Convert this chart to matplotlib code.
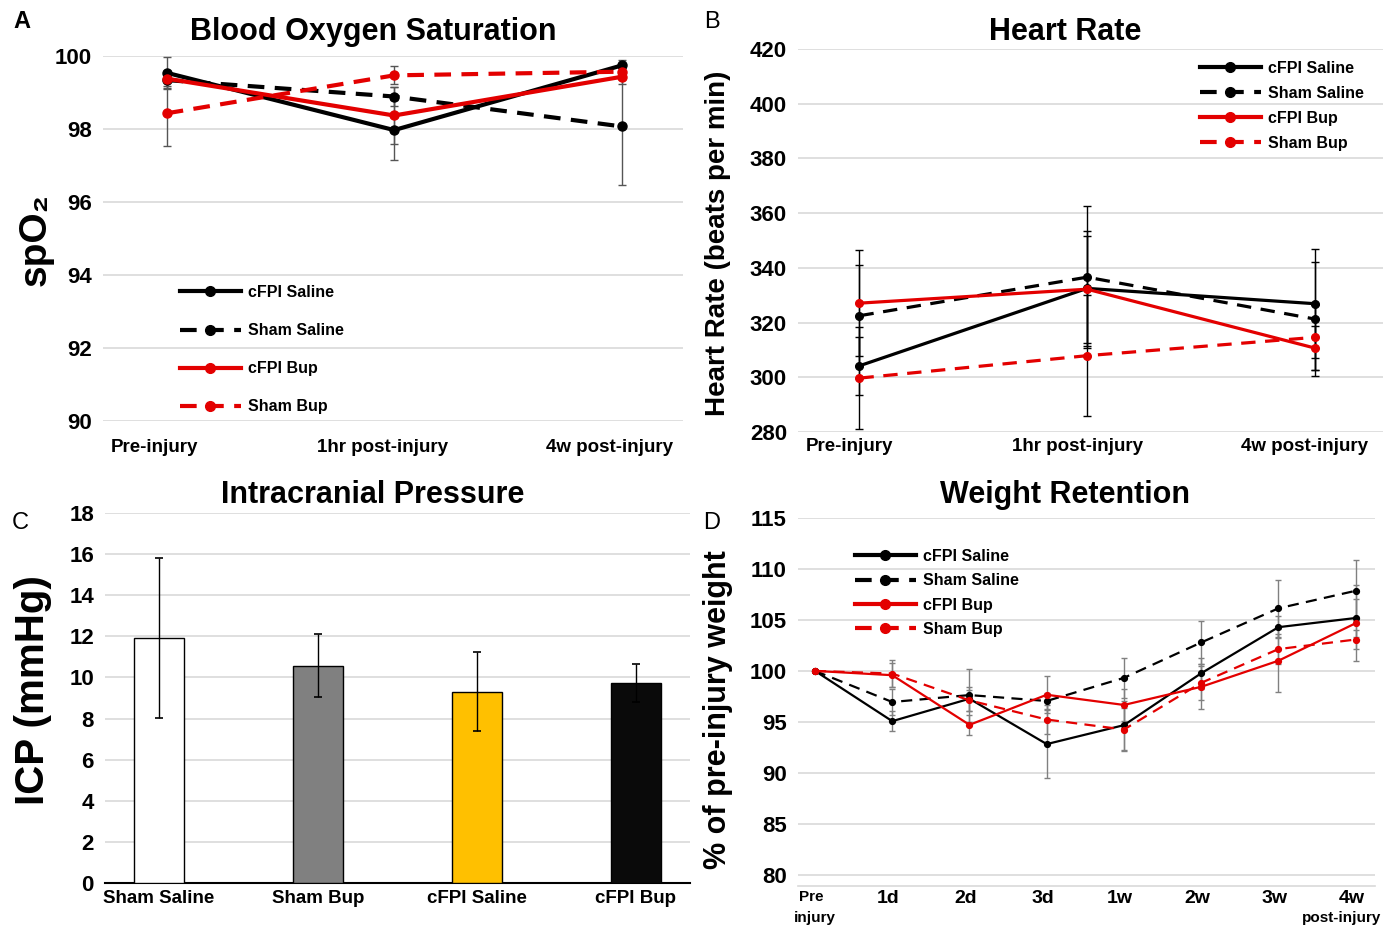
import matplotlib
matplotlib.use('Agg')
import matplotlib.pyplot as plt
from matplotlib.lines import Line2D
from matplotlib.transforms import ScaledTranslation

plt.rcParams['font.family'] = ['Liberation Sans', 'DejaVu Sans']
plt.rcParams['font.weight'] = 'bold'

RED = '#E30000'
GRID = '#D9D9D9'

# --- data ---
groups = ['cFPI Saline', 'Sham Saline', 'cFPI Bup', 'Sham Bup']
colors = ['black', 'black', RED, RED]
dashed = [False, True, False, True]

time3 = ['Pre-injury', '1hr post-injury', '4w post-injury']

spo2 = {
    'cFPI Saline': [99.54, 97.97, 99.74],
    'Sham Saline': [99.34, 98.89, 98.07],
    'cFPI Bup': [99.38, 98.37, 99.43],
    'Sham Bup': [98.43, 99.47, 99.57],
}
spo2_err = {
    'cFPI Saline': [0.42, 0.83, 0.15],
    'Sham Saline': [0.25, 0.25, 1.6],
    'cFPI Bup': [0.2, 0.77, 0.2],
    'Sham Bup': [0.9, 0.25, 0.2],
}

hr = {
    'cFPI Saline': [304.2, 332.5, 326.9],
    'Sham Saline': [322.5, 336.6, 321.3],
    'cFPI Bup': [327.1, 332.2, 310.7],
    'Sham Bup': [299.7, 307.9, 314.6],
}
hr_err = {
    'cFPI Saline': [10.6, 21.0, 20.0],
    'Sham Saline': [18.4, 26.0, 21.0],
    'cFPI Bup': [19.5, 19.5, 8.0],
    'Sham Bup': [18.5, 22.2, 12.0],
}

icp_groups = ['Sham Saline', 'Sham Bup', 'cFPI Saline', 'cFPI Bup']
icp = [11.92, 10.57, 9.31, 9.72]
icp_err = [3.87, 1.52, 1.93, 0.93]
icp_colors = ['white', '#808080', '#FFC000', '#0A0A0A']

days = ['Pre', '1d', '2d', '3d', '1w', '2w', '3w', '4w']
weight = {
    'cFPI Saline': [100.0, 95.07, 97.27, 92.82, 94.68, 99.77, 104.29, 105.19],
    'Sham Saline': [100.0, 96.95, 97.63, 97.05, 99.32, 102.79, 106.14, 107.86],
    'cFPI Bup': [100.0, 99.58, 94.71, 97.66, 96.66, 98.44, 101.0, 104.68],
    'Sham Bup': [100.0, 99.74, 97.11, 95.23, 94.25, 98.83, 102.14, 103.08],
}
weight_err = {
    'cFPI Saline': [0, 1.0, 1.2, 3.3, 2.4, 1.5, 1.1, 1.9],
    'Sham Saline': [0, 1.3, 2.6, 0.8, 1.95, 2.15, 2.8, 3.0],
    'cFPI Bup': [0, 1.2, 1.0, 1.8, 1.6, 2.2, 3.1, 3.7],
    'Sham Bup': [0, 1.3, 1.0, 1.4, 2.1, 1.7, 1.5, 0.9],
}


def px(x, y):
    """pixel position (from top-left) -> figure fraction"""
    return x / 1395, 1 - y / 926


def style_axes(ax, ytick_size=16, xtick_size=13.5, xpad=6):
    for s in ax.spines.values():
        s.set_visible(False)
    ax.grid(axis='y', color=GRID, lw=1.2)
    ax.set_axisbelow(True)
    ax.tick_params(length=0, pad=8)
    ax.tick_params(axis='y', labelsize=ytick_size)
    ax.tick_params(axis='x', labelsize=xtick_size, pad=xpad)


def shift_xlabels(ax, dx_px):
    # labels in the original sit a little left of their points
    off = ScaledTranslation(dx_px / 100, 0, ax.figure.dpi_scale_trans)
    for lab in ax.get_xticklabels():
        lab.set_transform(lab.get_transform() + off)


def line_panel(ax, x, data, err, lw, ms, dash, ecolor, capsize):
    for g, c, d in zip(groups, colors, dashed):
        ls = (0, dash) if d else '-'
        ax.errorbar(x, data[g], yerr=err[g], color=c, lw=lw, ls=ls,
                    marker='o', ms=ms, ecolor=ecolor, elinewidth=1,
                    capsize=capsize, capthick=1, label=g, zorder=3)


def add_legend(ax, lw, ms, dash, xy, spacing):
    handles = [Line2D([], [], color=c, lw=lw, ls=(0, dash) if d else '-',
                      marker='o', ms=ms)
               for c, d in zip(colors, dashed)]
    ax.legend(handles, groups, loc='upper left', bbox_to_anchor=px(*xy),
              bbox_transform=ax.figure.transFigure, frameon=False,
              fontsize=11.5, handlelength=3.8, handletextpad=0.45,
              labelspacing=spacing, borderpad=0, borderaxespad=0,
              numpoints=1)


fig = plt.figure(figsize=(13.95, 9.26), dpi=100)

# A: blood oxygen saturation
axA = fig.add_axes([103 / 1395, 1 - 421 / 926, 580 / 1395, 365 / 926])
style_axes(axA, xpad=13)
xs = list(range(len(time3)))
line_panel(axA, xs, spo2, spo2_err, 3, 6.5, (4, 2.5), '#555555', 3)
axA.set_ylim(90, 100)
axA.set_yticks(range(90, 101, 2))
axA.set_xlim(-0.28, 2.27)
axA.set_xticks(xs)
axA.set_xticklabels(time3)
shift_xlabels(axA, -12)
add_legend(axA, 3, 7, (4, 2.5), (180, 285), 1.45)

# B: heart rate
axB = fig.add_axes([798 / 1395, 1 - 432 / 926, 585 / 1395, 383 / 926])
style_axes(axB, xpad=4)
line_panel(axB, xs, hr, hr_err, 2.3, 5.5, (4.5, 3), 'black', 3)
axB.set_ylim(280, 420)
axB.set_yticks(range(280, 421, 20))
axB.set_xlim(-0.27, 2.3)
axB.set_xticks(xs)
axB.set_xticklabels(time3)
shift_xlabels(axB, -10)
add_legend(axB, 3, 7, (4, 2.5), (1200, 61), 0.62)

# C: intracranial pressure
axC = fig.add_axes([105 / 1395, 1 - 883 / 926, 585 / 1395, 370 / 926])
style_axes(axC, xpad=5)
xc = list(range(len(icp_groups)))
axC.bar(xc, icp, width=0.31, color=icp_colors, edgecolor='black', lw=1,
        yerr=icp_err, error_kw=dict(ecolor='black', elinewidth=1,
                                    capsize=3, capthick=1.2), zorder=3)
axC.spines['bottom'].set_visible(True)
axC.spines['bottom'].set_color('black')
axC.spines['bottom'].set_linewidth(1.5)
axC.set_ylim(0, 18)
axC.set_yticks(range(0, 19, 2))
axC.set_xlim(-0.34, 3.34)
axC.set_xticks(xc)
axC.set_xticklabels(icp_groups)

# D: weight retention
axD = fig.add_axes([798 / 1395, 1 - 886 / 926, 577 / 1395, 368 / 926])
style_axes(axD, xtick_size=14, xpad=3)
xd = list(range(len(days)))
line_panel(axD, xd, weight, weight_err, 1.6, 4.2, (5, 3.3), '#808080', 2)
axD.spines['bottom'].set_visible(True)
axD.spines['bottom'].set_color(GRID)
axD.spines['bottom'].set_linewidth(1.2)
axD.set_ylim(78.9, 115)
axD.set_yticks(range(80, 116, 5))
axD.set_xlim(-0.22, 7.25)
axD.set_xticks(xd)
axD.set_xticklabels(days)
shift_xlabels(axD, -4)
axD.get_xticklabels()[0].set_fontsize(11)
axD.text(0, -0.068, 'injury', transform=axD.get_xaxis_transform(),
         ha='center', va='top', fontsize=11)
axD.text(7 - 0.18, -0.068, 'post-injury', transform=axD.get_xaxis_transform(),
         ha='center', va='top', fontsize=11)
add_legend(axD, 3, 7, (4, 2.5), (855, 549), 0.58)

# titles, axis labels, panel letters
for (x, y), t in zip([(373, 32), (1065, 32), (373, 495), (1065, 495)],
                     ['Blood Oxygen Saturation', 'Heart Rate',
                      'Intracranial Pressure', 'Weight Retention']):
    fig.text(*px(x, y), t, ha='center', va='center', fontsize=22)

fig.text(*px(36, 240), 'spO\u2082', rotation=90, ha='center', va='center',
         fontsize=28)
fig.text(*px(718, 243), 'Heart Rate (beats per min)', rotation=90,
         ha='center', va='center', fontsize=20)
fig.text(*px(33, 690), 'ICP (mmHg)', rotation=90, ha='center', va='center',
         fontsize=29)
fig.text(*px(718, 710), '% of pre-injury weight', rotation=90, ha='center',
         va='center', fontsize=22)

for (x, y), t, w in zip([(22, 22), (712, 22), (20, 523), (712, 523)],
                        ['A', 'B', 'C', 'D'],
                        ['bold', 'normal', 'normal', 'normal']):
    fig.text(*px(x, y), t, ha='center', va='center', fontsize=17,
             fontweight=w)

fig.savefig('out.png', dpi=100)
